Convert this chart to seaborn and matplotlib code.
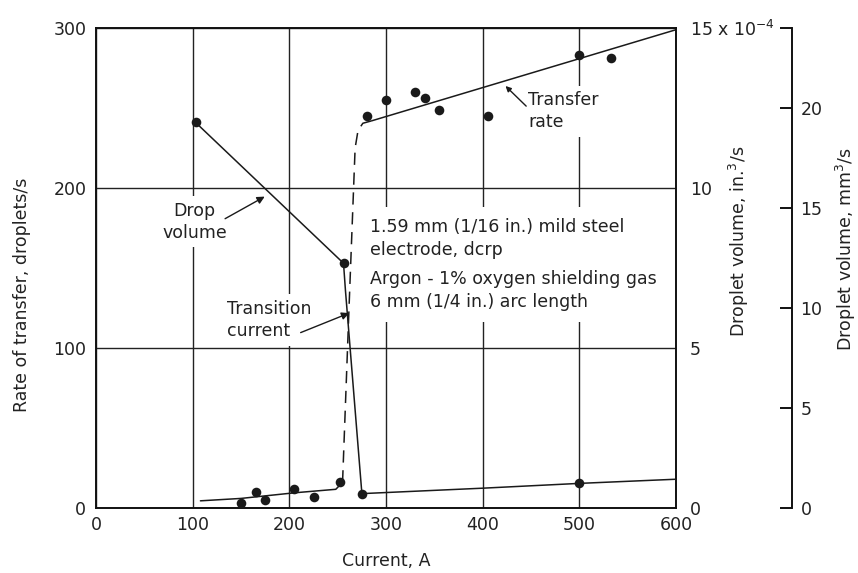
import matplotlib
matplotlib.use("Agg")
import matplotlib.pyplot as plt
import seaborn as sns

# ---- data ----
current_tr_low = [150, 165, 175, 205, 225, 252]
rate_tr_low = [3, 10, 5, 12, 7, 16]
current_tr_high = [280, 300, 330, 340, 355, 405, 500, 533]
rate_tr_high = [245, 255, 260, 256, 249, 245, 283, 281]

fit_low_x = [108, 150, 205, 248, 255]
fit_low_y = [4.5, 6, 9.5, 11.7, 16]
trans_x = [255, 262, 268, 271, 276, 285]
trans_y = [16, 130, 225, 236, 240.5, 242]
fit_high_x = [285, 600]
fit_high_y = [242, 299]

# droplet volume, x 1e-4 in^3/s
dv_curve_x = [103, 256, 258, 275, 400, 500, 600]
dv_curve_y = [12.05, 7.65, 6.8, 0.45, 0.62, 0.77, 0.9]
dv_pts_x = [103, 256, 275, 500]
dv_pts_y = [12.05, 7.65, 0.45, 0.77]

x_ticks = [0, 100, 200, 300, 400, 500, 600]
y_ticks = [0, 100, 200, 300]
in3_ticks = [0, 5, 10, 15]
in3_labels = ["0", "5", "10", "15 x 10$^{-4}$"]
mm3_ticks = [0, 5, 10, 15, 20, 24]
mm3_labels = ["0", "5", "10", "15", "20", ""]

sns.set_theme(style="white")
plt.rcParams["font.family"] = ["DejaVu Sans"]
plt.rcParams["font.size"] = 12.5

fig, ax = plt.subplots(figsize=(8.58, 5.73), dpi=100)
fig.subplots_adjust(left=0.1119, right=0.788, bottom=0.1134, top=0.951)

FS = 12.5
LW = 1.1
TC = "#222"

ax.set_xlim(0, 600)
ax.set_ylim(0, 300)
ax.set_xticks(x_ticks)
ax.set_yticks(y_ticks)
ax.set_xticklabels([str(v) for v in x_ticks], fontsize=FS, color=TC)
ax.set_yticklabels([str(v) for v in y_ticks], fontsize=FS, color=TC)
ax.tick_params(axis="both", length=0)
ax.tick_params(axis="x", pad=6)
ax.tick_params(axis="y", pad=7)
ax.grid(True, color="#222", lw=1.0)
ax.set_axisbelow(True)
for s in ax.spines.values():
    s.set_color("#111")
    s.set_linewidth(1.4)

# transfer rate
sns.lineplot(x=fit_low_x, y=fit_low_y, ax=ax, color="k", lw=LW, sort=False, estimator=None)
sns.lineplot(x=trans_x, y=trans_y, ax=ax, color="k", lw=LW, sort=False, estimator=None,
             linestyle=(0, (8, 5)))
sns.lineplot(x=fit_high_x, y=fit_high_y, ax=ax, color="k", lw=LW, sort=False, estimator=None)
sns.scatterplot(x=current_tr_low, y=rate_tr_low, ax=ax, color="k", s=48, linewidth=0, zorder=5)
sns.scatterplot(x=current_tr_high, y=rate_tr_high, ax=ax, color="k", s=48, linewidth=0, zorder=5)

ax.set_xlabel("Current, A", fontsize=FS, color=TC)
ax.set_ylabel("Rate of transfer, droplets/s", fontsize=FS, color=TC)
ax.xaxis.set_label_coords(0.5, -0.092)
ax.yaxis.set_label_coords(-0.112, 0.444)

# annotations
box = dict(facecolor="white", edgecolor="none", pad=4)
ax.text(102, 179, "Drop\nvolume", ha="center", va="center", fontsize=FS, color=TC,
        linespacing=1.3, bbox=box, zorder=6)
ax.annotate("", xy=(177, 195.5), xytext=(131, 180),
            arrowprops=dict(arrowstyle="-|>", color="k", lw=1.0, mutation_scale=11), zorder=7)
ax.text(136, 117.5, "Transition\ncurrent", ha="left", va="center", fontsize=FS, color=TC,
        linespacing=1.3, bbox=box, zorder=6)
ax.annotate("", xy=(264.5, 122.5), xytext=(209, 109),
            arrowprops=dict(arrowstyle="-|>", color="k", lw=1.0, mutation_scale=11), zorder=7)
ax.text(447, 248, "Transfer\nrate", ha="left", va="center", fontsize=FS, color=TC,
        linespacing=1.3, bbox=box, zorder=6)
ax.annotate("", xy=(421.5, 265), xytext=(447, 250),
            arrowprops=dict(arrowstyle="-|>", color="k", lw=1.0, mutation_scale=8), zorder=7)
box2 = dict(facecolor="white", edgecolor="none", pad=8)
ax.text(283.5, 168.5, "1.59 mm (1/16 in.) mild steel\nelectrode, dcrp", ha="left", va="center",
        fontsize=FS, color=TC, linespacing=1.35, bbox=box2, zorder=6)
ax.text(283.5, 136, "Argon - 1% oxygen shielding gas\n6 mm (1/4 in.) arc length", ha="left",
        va="center", fontsize=FS, color=TC, linespacing=1.35, bbox=box2, zorder=6)

# droplet volume axis (in^3/s)
ax2 = ax.twinx()
ax2.set_ylim(0, 15)
sns.lineplot(x=dv_curve_x, y=dv_curve_y, ax=ax2, color="k", lw=LW, sort=False, estimator=None)
sns.scatterplot(x=dv_pts_x, y=dv_pts_y, ax=ax2, color="k", s=48, linewidth=0, zorder=5)
ax2.set_yticks(in3_ticks)
ax2.set_yticklabels(in3_labels, fontsize=FS, color=TC)
ax2.tick_params(axis="y", length=0, pad=10)
for s in ax2.spines.values():
    s.set_visible(False)
ax2.set_ylabel("Droplet volume, in.$^3$/s", fontsize=FS, color=TC)
ax2.yaxis.set_label_coords(1.088, 0.555)

# droplet volume axis (mm^3/s)
ax3 = ax.twinx()
ax3.set_ylim(0, 24)
ax3.spines["right"].set_position(("axes", 1.2))
for k in ["top", "left", "bottom"]:
    ax3.spines[k].set_visible(False)
ax3.spines["right"].set_color("#111")
ax3.spines["right"].set_linewidth(1.4)
ax3.set_yticks(mm3_ticks)
ax3.set_yticklabels(mm3_labels, fontsize=FS, color=TC)
ax3.tick_params(axis="y", direction="in", length=9, width=1.4, color="#111", pad=6)
ax3.set_ylabel("Droplet volume, mm$^3$/s", fontsize=FS, color=TC)
ax3.yaxis.set_label_coords(1.272, 0.54)

fig.savefig("out.png", dpi=100)
